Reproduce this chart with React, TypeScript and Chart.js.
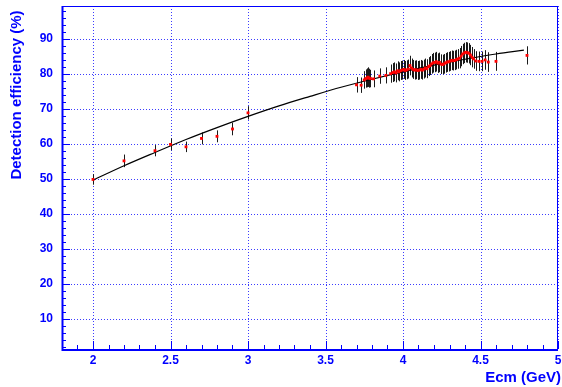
import React, { useEffect, useRef } from "react";
import { Chart, registerables } from "chart.js";

Chart.register(...registerables);

// ---- data ----
const energies = [
  2.0, 2.2, 2.4, 2.5, 2.6, 2.7, 2.8, 2.9, 3.0,
  3.70, 3.73, 3.75, 3.76, 3.77, 3.775, 3.78, 3.79, 3.81, 3.85, 3.89,
  3.92, 3.935, 3.945, 3.955, 3.965, 3.975, 3.985, 3.995, 4.005, 4.015,
  4.025, 4.035, 4.045, 4.055, 4.065, 4.075, 4.085, 4.095, 4.105, 4.115,
  4.125, 4.135, 4.145, 4.155, 4.165, 4.175, 4.185, 4.195, 4.205, 4.215,
  4.225, 4.235, 4.245, 4.255, 4.265, 4.275, 4.285, 4.295, 4.305, 4.315,
  4.325, 4.335, 4.345, 4.355, 4.365, 4.375, 4.385, 4.395, 4.405, 4.415,
  4.425, 4.435, 4.445, 4.455, 4.47, 4.49, 4.51, 4.53, 4.55, 4.60, 4.80,
];
const efficiencies = [
  49.8, 55.1, 58.0, 59.8, 59.1, 61.5, 62.1, 64.2, 68.8,
  76.8, 76.7, 78.2, 78.6, 78.8, 79.0, 78.7, 78.6, 78.5, 79.3, 79.5,
  80.0, 80.3, 80.5, 80.2, 80.8, 80.5, 80.9, 81.0, 81.2, 80.9,
  81.1, 81.3, 82.3, 81.6, 81.2, 81.0, 81.1, 80.9, 81.0, 81.2,
  81.0, 81.3, 81.6, 81.4, 82.0, 82.3, 82.8, 83.1, 83.2, 83.4,
  83.0, 83.2, 82.7, 82.6, 82.8, 83.1, 83.3, 83.4, 83.6, 83.8,
  83.7, 83.8, 84.0, 84.2, 84.4, 85.0, 85.6, 85.9, 86.1, 86.0,
  85.8, 85.3, 84.7, 84.2, 83.6, 83.5, 83.5, 83.9, 83.3, 83.5, 85.2,
];
const errors = [
  1.5, 1.8, 1.6, 1.7, 1.5, 1.7, 1.7, 1.8, 1.9,
  2.2, 2.2, 2.5, 2.6, 2.7, 2.8, 2.7, 2.5, 2.4, 2.2, 2.3,
  2.6, 2.7, 2.7, 2.7, 2.7, 2.7, 2.7, 2.7, 2.7, 2.7,
  2.7, 2.7, 2.8, 2.7, 2.7, 2.7, 2.7, 2.7, 2.7, 2.7,
  2.7, 2.7, 2.7, 2.7, 2.7, 2.7, 2.8, 2.8, 2.8, 2.8,
  2.8, 2.8, 2.8, 2.8, 2.8, 2.8, 2.8, 2.8, 2.8, 2.8,
  2.8, 2.8, 2.8, 2.8, 2.9, 2.9, 2.9, 2.9, 2.9, 2.9,
  2.9, 2.9, 2.9, 2.8, 2.8, 2.8, 2.8, 2.8, 2.8, 2.7, 2.6,
];
const fitEnergies = [2.0, 2.2, 2.4, 2.6, 2.8, 3.0, 3.2, 3.4, 3.6, 3.8, 4.0, 4.2, 4.4, 4.6, 4.78];
const fitEfficiencies = [49.6, 53.7, 57.5, 61.2, 64.6, 67.8, 70.8, 73.5, 76.1, 78.4, 80.5, 82.4, 84.1, 85.6, 86.7];
const xTickLabels = [2, 2.5, 3, 3.5, 4, 4.5, 5];
const yTickLabels = [10, 20, 30, 40, 50, 60, 70, 80, 90];

const BLUE = "#0000ff";
const FONT = "'Liberation Sans', Arial, sans-serif";

const framePlugin = {
  id: "rootFrame",
  beforeDatasetsDraw(chart: any) {
    const { ctx, chartArea } = chart;
    const xs = chart.scales.x;
    const ys = chart.scales.y;
    const { left, right, top, bottom } = chartArea;
    ctx.save();
    // dotted grid
    ctx.strokeStyle = "#3c3cff";
    ctx.lineWidth = 1;
    ctx.setLineDash([1, 2]);
    xTickLabels.forEach((v) => {
      const px = Math.round(xs.getPixelForValue(v)) + 0.5;
      ctx.beginPath();
      ctx.moveTo(px, top);
      ctx.lineTo(px, bottom);
      ctx.stroke();
    });
    yTickLabels.forEach((v) => {
      const py = Math.round(ys.getPixelForValue(v)) + 0.5;
      ctx.beginPath();
      ctx.moveTo(left, py);
      ctx.lineTo(right, py);
      ctx.stroke();
    });
    ctx.setLineDash([]);
    // ticks
    ctx.strokeStyle = BLUE;
    ctx.lineWidth = 1;
    for (let i = 18; i <= 50; i++) {
      const v = i / 10;
      const px = Math.round(xs.getPixelForValue(v)) + 0.5;
      const len = i % 5 === 0 ? 8 : 4;
      ctx.beginPath();
      ctx.moveTo(px, bottom);
      ctx.lineTo(px, bottom - len);
      ctx.stroke();
    }
    for (let v = 2; v <= 98; v += 2) {
      const py = Math.round(ys.getPixelForValue(v)) + 0.5;
      const len = v % 10 === 0 ? 8 : 4;
      ctx.beginPath();
      ctx.moveTo(left, py);
      ctx.lineTo(left + len, py);
      ctx.stroke();
    }
    // frame
    ctx.lineWidth = 1;
    ctx.strokeRect(Math.round(left) + 0.5, Math.round(top) + 0.5, Math.round(right - left) - 1, Math.round(bottom - top));
    ctx.lineWidth = 2;
    ctx.beginPath();
    ctx.moveTo(Math.round(left) + 0.5, top);
    ctx.lineTo(Math.round(left) + 0.5, Math.round(bottom) + 1);
    ctx.lineTo(right, Math.round(bottom) + 1);
    ctx.stroke();
    // error bars
    ctx.strokeStyle = "#1a1a1a";
    ctx.lineWidth = 1;
    energies.forEach((e, i) => {
      const px = Math.round(xs.getPixelForValue(e)) + 0.5;
      const y1 = ys.getPixelForValue(efficiencies[i] - errors[i]);
      const y2 = ys.getPixelForValue(efficiencies[i] + errors[i]);
      ctx.beginPath();
      ctx.moveTo(px, y1);
      ctx.lineTo(px, y2);
      ctx.stroke();
    });
    ctx.restore();
  },
  afterDraw(chart: any) {
    const { ctx } = chart;
    ctx.save();
    ctx.fillStyle = BLUE;
    ctx.font = `bold 15px ${FONT}`;
    ctx.textBaseline = "middle";
    ctx.textAlign = "right";
    ctx.fillText("Ecm (GeV)", 561, 378);
    ctx.translate(16.5, 95);
    ctx.rotate(-Math.PI / 2);
    ctx.textAlign = "center";
    ctx.fillText("Detection efficiency (%)", 0, 0);
    ctx.restore();
  },
};

export default function App() {
  const ref = useRef<HTMLCanvasElement>(null);
  useEffect(() => {
    document.body.style.margin = "0";
    const chart = new Chart(ref.current as HTMLCanvasElement, {
      type: "scatter",
      data: {
        datasets: [
          {
            type: "scatter",
            data: energies.map((e, i) => ({ x: e, y: efficiencies[i] })),
            pointStyle: "rect",
            pointRadius: 2,
            pointBackgroundColor: "#ff0000",
            pointBorderWidth: 0,
            pointBorderColor: "#ff0000",
          } as any,
          {
            type: "line",
            data: fitEnergies.map((e, i) => ({ x: e, y: fitEfficiencies[i] })),
            borderColor: "#000000",
            borderWidth: 1.2,
            pointRadius: 0,
            cubicInterpolationMode: "monotone",
            fill: false,
          } as any,
        ],
      },
      options: {
        animation: false,
        responsive: false,
        events: [],
        layout: { padding: { left: 0, right: 1, top: 6, bottom: 0 } },
        plugins: { legend: { display: false }, tooltip: { enabled: false } },
        scales: {
          x: {
            type: "linear",
            position: "bottom",
            min: 1.8,
            max: 5.0,
            grid: { display: false, drawTicks: false },
            border: { display: false },
            afterBuildTicks: (s: any) => {
              s.ticks = xTickLabels.map((v) => ({ value: v }));
            },
            afterFit: (s: any) => {
              s.height = 38;
              s.paddingLeft = 0;
              s.paddingRight = 0;
            },
            ticks: {
              color: BLUE,
              font: { family: FONT, size: 12, weight: "bold" },
              padding: 4,
              maxRotation: 0,
              autoSkip: false,
              callback: (v: any) => String(v),
            },
          },
          y: {
            type: "linear",
            min: 1.4,
            max: 99.3,
            grid: { display: false, drawTicks: false },
            border: { display: false },
            afterBuildTicks: (s: any) => {
              s.ticks = yTickLabels.map((v) => ({ value: v }));
            },
            afterFit: (s: any) => {
              s.width = 62;
              s.paddingTop = 0;
              s.paddingBottom = 0;
            },
            ticks: {
              color: BLUE,
              font: { family: FONT, size: 12, weight: "bold" },
              padding: 9,
              autoSkip: false,
              callback: (v: any) => String(v),
            },
          },
        },
      },
      plugins: [framePlugin],
    } as any);
    return () => chart.destroy();
  }, []);
  return (
    <div style={{ position: "absolute", left: 0, top: 0, width: 562, height: 387, background: "#fff" }}>
      <canvas ref={ref} width={562} height={387} style={{ width: 562, height: 387, display: "block" }} />
    </div>
  );
}
